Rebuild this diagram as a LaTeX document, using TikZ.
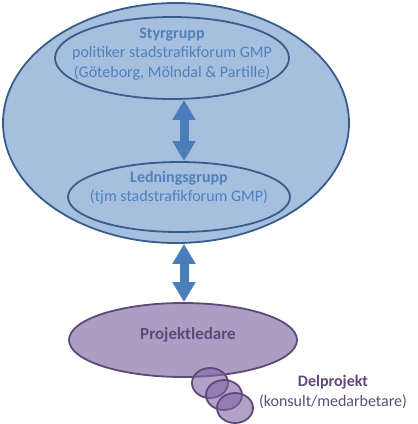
\documentclass[tikz,border=0pt]{standalone}
\usepackage{fontspec}
\setmainfont{Carlito}
\usetikzlibrary{arrows.meta, positioning, shapes.geometric}
\definecolor{cBlueFill}{HTML}{A7BFDE}
\definecolor{cBlueLine}{HTML}{385D8A}
\definecolor{cBlueText}{HTML}{4F81BD}
\definecolor{cArrow}   {HTML}{4A7EBB}
\definecolor{cLilaFill}{HTML}{AC9DC2}
\definecolor{cLilaLine}{HTML}{5F497A}
\definecolor{cLilaDot} {HTML}{8064A2}

\begin{document}
\begin{tikzpicture}[x=1pt, y=-1pt,
      org/.style  = {ellipse, draw=cBlueLine, fill=cBlueFill, line width=1.8pt, inner sep=0pt},
      orgtxt/.style = {font=\fontsize{16}{19.5}\selectfont, text=cBlueText, align=center},
      lila/.style = {ellipse, draw=cLilaLine, fill=cLilaFill, line width=1.8pt, inner sep=0pt},
      dot/.style  = {ellipse, draw=cLilaLine, fill=cLilaDot, fill opacity=0.6, draw opacity=1, line width=1.8pt, minimum width=36pt, minimum height=30pt, inner sep=0pt},
      dbl/.style  = {{Triangle[width=22pt, length=20pt]}-{Triangle[width=22pt, length=20pt]}, draw=cArrow, line width=9pt} ]
    \useasboundingbox (0,0) rectangle (418,424);

    \node[org, minimum width=346pt, minimum height=240pt] (all) at (176,123) {};
    \node[org, minimum width=234pt, minimum height=82pt]  (sty) at (172,58)
      [label={[orgtxt, yshift=4pt]center:{\textbf{Styrgrupp}\\politiker stadstrafikforum GMP\\(Göteborg, Mölndal \& Partille)}}] {};
    \node[org, minimum width=222pt, minimum height=70pt]  (led) at (179,197)
      [label={[orgtxt, yshift=9pt]center:{\textbf{Ledningsgrupp}\\(tjm stadstrafikforum GMP)}}] {};
    \node[lila, minimum width=228pt, minimum height=74pt] (pl)  at (183,340)
      [label={[font=\fontsize{17}{20}\selectfont\bfseries, text=cLilaLine, xshift=5pt, yshift=5pt]center:Projektledare}] {};

    \node[dot] (d1) at (210,383) {};
    \node[dot] (d2) at (224,395) {};
    \node[dot] (d3) at (235,408) {};
    \node[font=\fontsize{16}{19.5}\selectfont, text=cLilaLine, align=center] (dp) at (333,392)
      {\textbf{Delprojekt}\\(konsult/medarbetare)};

    \coordinate (axis) at (184,0);
    \draw[dbl] (sty.south -| axis) -- (led.north -| axis);
    \draw[dbl] (all.south -| axis) -- (pl.north -| axis);
  \end{tikzpicture}
\end{document}
